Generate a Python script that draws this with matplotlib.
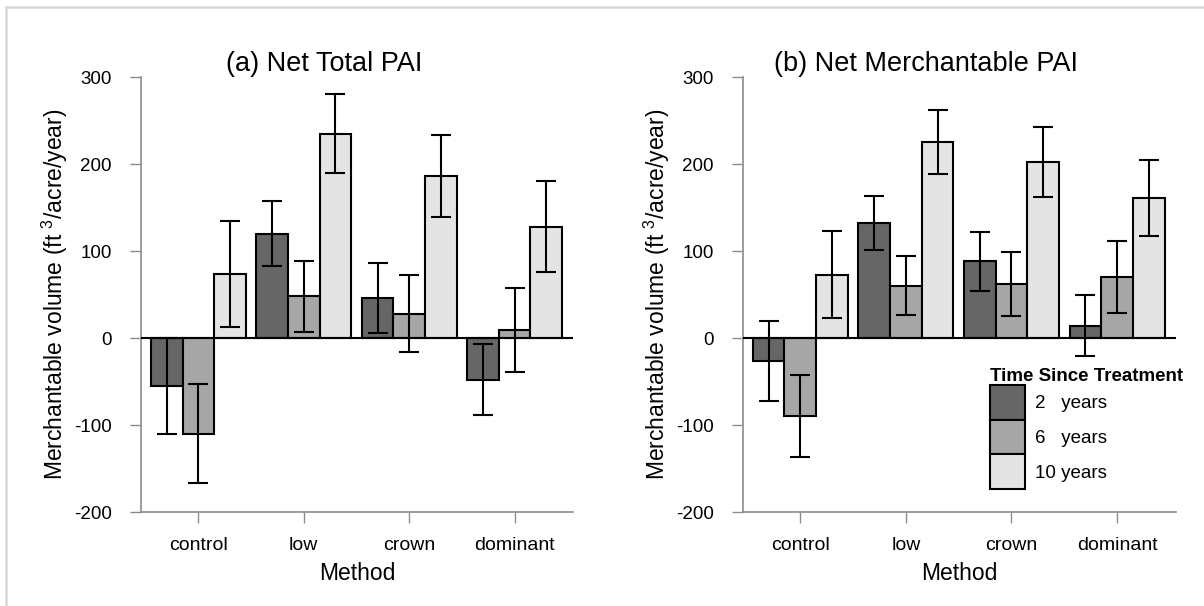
import matplotlib
matplotlib.use("Agg")
import matplotlib.pyplot as plt
from matplotlib.lines import Line2D
import numpy as np

plt.rcParams["font.family"] = ["Liberation Sans", "DejaVu Sans"]
plt.rcParams["mathtext.fontset"] = "custom"
plt.rcParams["mathtext.rm"] = "Liberation Sans"
plt.rcParams["mathtext.it"] = "Liberation Sans"
plt.rcParams["axes.unicode_minus"] = False

metodos = ["control", "low", "crown", "dominant"]
tiempos = ["2   years", "6   years", "10 years"]
colores = ["#666666", "#a6a6a6", "#e4e4e4"]

# (a) Net Total PAI: filas = metodo, columnas = 2, 6, 10 años
total_media = [[-55, -110, 74],
               [120, 48, 235],
               [46, 28, 186],
               [-48, 9, 128]]
total_error = [[55, 57, 61],
               [37, 41, 45],
               [40, 44, 47],
               [41, 48, 52]]

# (b) Net Merchantable PAI
merch_media = [[-26, -90, 73],
               [132, 60, 225],
               [88, 62, 202],
               [14, 70, 161]]
merch_error = [[46, 47, 50],
               [31, 34, 37],
               [34, 37, 40],
               [35, 41, 44]]

titulos = ["(a) Net Total PAI", "(b) Net Merchantable PAI"]
gris = "#8c8c8c"

fig = plt.figure(figsize=(12.04, 6.06), dpi=100)
ax1 = fig.add_axes([0.1171, 0.1551, 0.3588, 0.7178])
ax2 = fig.add_axes([0.6169, 0.1551, 0.3596, 0.7178])

x = np.arange(len(metodos))
ancho = 0.3

for ax, media, error, titulo in zip([ax1, ax2], [total_media, merch_media],
                                     [total_error, merch_error], titulos):
    media = np.array(media)
    error = np.array(error)
    for j in range(len(tiempos)):
        ax.bar(x + (j - 1) * ancho, media[:, j], ancho, color=colores[j],
               edgecolor="black", linewidth=1.5, label=tiempos[j], zorder=2)
        ax.errorbar(x + (j - 1) * ancho, media[:, j], yerr=error[:, j],
                    fmt="none", ecolor="black", elinewidth=1.5, capsize=7.5,
                    capthick=1.5, zorder=3)
    ax.axhline(0, color="black", linewidth=1.5, zorder=4)
    ax.set_xlim(-0.545, 3.555)
    ax.set_ylim(-200, 300)
    ax.set_yticks([-200, -100, 0, 100, 200, 300])
    ax.set_xticks(x)
    ax.set_xticklabels(metodos)
    for s in ["top", "right"]:
        ax.spines[s].set_visible(False)
    for s in ["left", "bottom"]:
        ax.spines[s].set_color(gris)
        ax.spines[s].set_linewidth(1.2)
    ax.tick_params(axis="y", colors=gris, labelcolor="black", length=8,
                   width=1, pad=13, labelsize=13.5)
    ax.tick_params(axis="x", colors=gris, labelcolor="black", length=8,
                   width=1, pad=10, labelsize=14)
    ax.set_xlabel("Method", fontsize=16.5, labelpad=6)
    ax.set_ylabel("Merchantable volume (ft $^{3}$/acre/year)", fontsize=16.5,
                  labelpad=3)
    ax.text(0.424, 1.014, titulo, transform=ax.transAxes, ha="center",
            va="baseline", fontsize=19.5)

leg = ax2.legend(loc="upper left", bbox_to_anchor=(0.572, 0.331),
                 frameon=False, title="Time Since Treatment",
                 title_fontproperties={"weight": "bold", "size": 13.5},
                 alignment="left", fontsize=13.5, labelspacing=0,
                 handlelength=1.87, handleheight=2.47, handletextpad=0.5,
                 borderpad=0, borderaxespad=0)

# marco gris de la figura (arriba e izquierda)
fig.add_artist(Line2D([0.005, 1.0], [0.989, 0.989], color="#d9d9d9",
                      linewidth=1.8, transform=fig.transFigure))
fig.add_artist(Line2D([0.005, 0.005], [0.0, 0.989], color="#d9d9d9",
                      linewidth=1.8, transform=fig.transFigure))

fig.savefig("out.png", dpi=100)
